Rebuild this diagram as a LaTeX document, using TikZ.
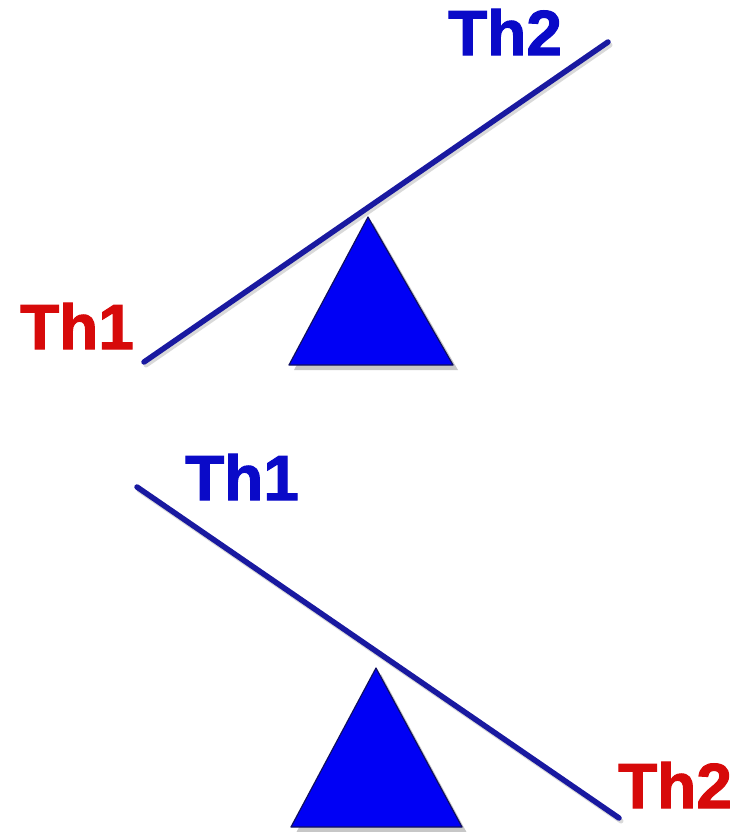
\documentclass[tikz,border=0pt]{standalone}
\usepackage{fontspec}
\setmainfont{Liberation Sans}
\newfontfamily\thfont[FakeBold=1.6]{Liberation Sans Bold}
\usetikzlibrary{calc}
\definecolor{beamblue}{RGB}{25,25,160}
\definecolor{padblue}{RGB}{0,0,245}
\definecolor{labblue}{RGB}{10,10,200}
\definecolor{labred}{RGB}{215,10,10}

\begin{document}
\begin{tikzpicture}[x=1pt,y=-1pt,
  lab/.style={font=\fontsize{64}{64}\thfont,inner sep=0pt},
  beam/.style={beamblue,line width=5.5pt,line cap=round},
  beamshade/.style={black!15,line width=5pt,line cap=round},
  pivot/.style={fill=padblue,draw=beamblue!60!black,line width=1.2pt,line join=round},
  pivotshade/.style={fill=black!22}]
\useasboundingbox (0,0) rectangle (755,832);
% upper seesaw, Th1 side down
\coordinate (a1) at (144,362); \coordinate (a2) at (608,42);
\fill[pivotshade] (373,223) -- (294,370) -- (458,370) -- cycle;
\draw[pivot] (368,217) -- (289,365) -- (453,365) -- cycle;
\draw[beamshade] ($(a1)+(2,3)$) -- ($(a2)+(2,3)$);
\draw[beam] (a1) -- (a2);
\node[lab,labred] (th1up) at (77,326) {Th1};
\node[lab,labblue] (th2up) at (505,32) {Th2};
% lower seesaw, Th2 side down
\coordinate (b1) at (137,487); \coordinate (b2) at (619,818);
\fill[pivotshade] (381,674) -- (296,833) -- (467,833) -- cycle;
\draw[pivot] (376,668) -- (291,827) -- (462,827) -- cycle;
\draw[beamshade] ($(b1)+(2,3)$) -- ($(b2)+(2,3)$);
\draw[beam] (b1) -- (b2);
\node[lab,labblue] (th1dn) at (242,477) {Th1};
\node[lab,labred] (th2dn) at (675,785) {Th2};
\end{tikzpicture}
\end{document}
